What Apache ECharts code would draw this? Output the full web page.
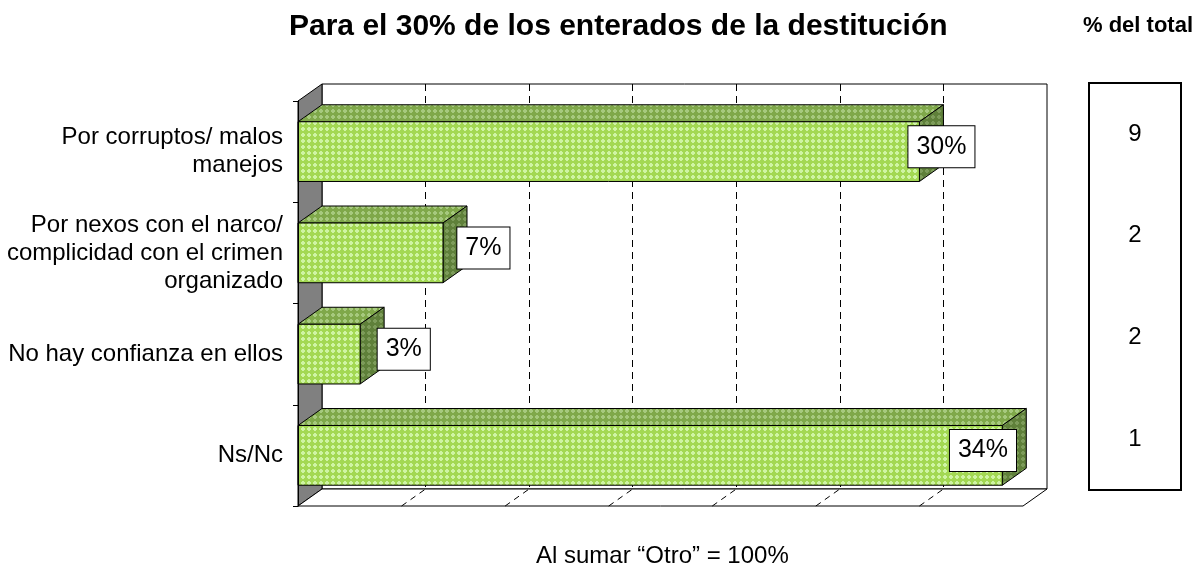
<!DOCTYPE html>
<html>
<head>
<meta charset="utf-8">
<script src="https://cdn.jsdelivr.net/npm/echarts@6/dist/echarts.min.js"></script>
<style>
  html, body { margin: 0; background: #fff; }
  #chart { width: 1196px; height: 572px; }
</style>
</head>
<body>
<div id="chart"></div>
<script>
const categories = [
  'Por corruptos/ malos\nmanejos',
  'Por nexos con el narco/\ncomplicidad con el crimen\norganizado',
  'No hay confianza en ellos',
  'Ns/Nc'
];
const values = [30, 7, 3, 34];
const totals = [9, 2, 2, 1];
const axisMax = 35;
const axisStep = 5;

const FONT = '"Liberation Sans", Arial, sans-serif';
const depth = [24, -17];

// small diamond hatch like the excel fill
function hatch(base, light) {
  const c = document.createElement('canvas');
  c.width = c.height = 6;
  const g = c.getContext('2d');
  g.fillStyle = base;
  g.fillRect(0, 0, 6, 6);
  g.fillStyle = light;
  g.fillRect(1, 2, 4, 2);
  g.fillRect(2, 1, 2, 4);
  return { image: c, repeat: 'repeat' };
}
const frontFill = hatch('#a3d853', '#cff4a4');
const topFill = hatch('#7fa84a', '#a6c97e');
const sideFill = hatch('#5f803a', '#7d9c5a');

const measure = document.createElement('canvas').getContext('2d');
function textWidth(t, font) {
  measure.font = font;
  return measure.measureText(t).width;
}

function renderWalls(params, api) {
  const cs = params.coordSys;
  const left = cs.x, top = cs.y, right = cs.x + cs.width, bottom = cs.y + cs.height;
  const dx = depth[0], dy = depth[1];
  const children = [
    {
      type: 'polygon',
      shape: { points: [[left, top], [left, bottom], [left + dx, bottom + dy], [left + dx, top + dy]] },
      style: { fill: '#808080', stroke: '#000', lineWidth: 1 }
    },
    {
      type: 'polygon',
      shape: { points: [[left, bottom], [right, bottom], [right + dx, bottom + dy], [left + dx, bottom + dy]] },
      style: { fill: '#fff', stroke: '#000', lineWidth: 1 }
    }
  ];
  for (let v = axisStep; v < axisMax; v += axisStep) {
    const x = api.coord([v, 0])[0];
    children.push({
      type: 'line',
      shape: { x1: x, y1: bottom, x2: x + dx, y2: bottom + dy },
      style: { stroke: '#000', lineWidth: 1, lineDash: [6, 5] }
    });
  }
  return { type: 'group', children };
}

function renderBar(params, api) {
  const v = api.value(0), i = api.value(1);
  const base = api.coord([0, i]);
  const end = api.coord([v, i]);
  const h = api.size([0, 1])[1] * 0.59;
  const x0 = base[0], x1 = end[0];
  const yt = end[1] - h / 2, yb = end[1] + h / 2;
  const dx = depth[0], dy = depth[1];

  const text = v + '%';
  const labelFont = '25px ' + FONT;
  const boxW = textWidth(text, labelFont) + 16;
  const rightEdge = params.coordSys.x + params.coordSys.width;
  // nudged off the bar end, pulled back inside when it would run out of the plot
  let lx = x1 + 46 - v * 0.8;
  lx = Math.min(lx, rightEdge - 7 - boxW / 2);

  return {
    type: 'group',
    children: [
      {
        type: 'polygon',
        shape: { points: [[x0, yt], [x1, yt], [x1 + dx, yt + dy], [x0 + dx, yt + dy]] },
        style: { fill: topFill, stroke: '#000', lineWidth: 1 }
      },
      {
        type: 'polygon',
        shape: { points: [[x1, yt], [x1 + dx, yt + dy], [x1 + dx, yb + dy], [x1, yb]] },
        style: { fill: sideFill, stroke: '#000', lineWidth: 1 }
      },
      {
        type: 'rect',
        shape: { x: x0, y: yt, width: x1 - x0, height: h },
        style: { fill: frontFill, stroke: '#000', lineWidth: 1 }
      },
      {
        type: 'text',
        x: lx,
        y: end[1] - 5,
        style: {
          text,
          font: labelFont,
          fill: '#000',
          align: 'center',
          verticalAlign: 'middle',
          lineHeight: 27,
          backgroundColor: '#fff',
          borderColor: '#000',
          borderWidth: 1,
          padding: [7, 8]
        }
      }
    ]
  };
}

function renderTotal(params, api) {
  const p = api.coord([0.5, api.value(1)]);
  return {
    type: 'text',
    x: p[0],
    y: p[1],
    style: {
      text: String(api.value(0)),
      font: '24px ' + FONT,
      fill: '#000',
      align: 'center',
      verticalAlign: 'middle'
    }
  };
}

const chart = echarts.init(document.getElementById('chart'));
chart.setOption({
  animation: false,
  backgroundColor: '#fff',
  title: [
    {
      text: 'Para el 30% de los enterados de la destitución',
      left: 289, top: 12, padding: 0,
      textStyle: { fontFamily: FONT, fontSize: 30, fontWeight: 'bold', color: '#000' }
    },
    {
      text: '% del total',
      right: 3, top: 15, padding: 0,
      textStyle: { fontFamily: FONT, fontSize: 22, fontWeight: 'bold', color: '#000' }
    },
    {
      text: 'Al sumar “Otro” = 100%',
      left: 536, top: 544, padding: 0,
      textStyle: { fontFamily: FONT, fontSize: 24, fontWeight: 'normal', color: '#000' }
    }
  ],
  grid: [
    { left: 298, top: 101, width: 725, height: 405 },
    { left: 322, top: 84, width: 725, height: 405, show: true, backgroundColor: '#fff', borderColor: '#000', borderWidth: 1 },
    { left: 1089, top: 83, width: 92, height: 407, show: true, backgroundColor: '#fff', borderColor: '#000', borderWidth: 2 }
  ],
  xAxis: [
    { gridIndex: 0, type: 'value', min: 0, max: axisMax, interval: axisStep, show: false },
    {
      gridIndex: 1, type: 'value', min: 0, max: axisMax, interval: axisStep,
      axisLine: { show: false }, axisTick: { show: false }, axisLabel: { show: false },
      splitLine: {
        show: true, showMinLine: false, showMaxLine: false,
        lineStyle: { color: '#000', width: 1, type: [7, 5] }
      }
    },
    { gridIndex: 2, type: 'value', min: 0, max: 1, show: false }
  ],
  yAxis: [
    {
      gridIndex: 0, type: 'category', data: categories, inverse: true, z: 5,
      axisLine: { show: true, lineStyle: { color: '#000', width: 1 } },
      axisTick: { show: true, length: 5, lineStyle: { color: '#000' } },
      axisLabel: { fontFamily: FONT, fontSize: 24, lineHeight: 28, color: '#000', margin: 15 },
      splitLine: { show: false }
    },
    { gridIndex: 1, type: 'category', data: categories, inverse: true, show: false },
    { gridIndex: 2, type: 'category', data: categories, inverse: true, show: false }
  ],
  series: [
    {
      type: 'custom', name: 'walls', xAxisIndex: 0, yAxisIndex: 0, z: 1,
      renderItem: renderWalls, data: [[0, 0]], silent: true
    },
    {
      type: 'custom', name: 'enterados', xAxisIndex: 0, yAxisIndex: 0, z: 3,
      renderItem: renderBar, data: values.map((v, i) => [v, i])
    },
    {
      type: 'custom', name: 'total', xAxisIndex: 2, yAxisIndex: 2, z: 3,
      renderItem: renderTotal, data: totals.map((v, i) => [v, i])
    }
  ]
});
</script>
</body>
</html>
